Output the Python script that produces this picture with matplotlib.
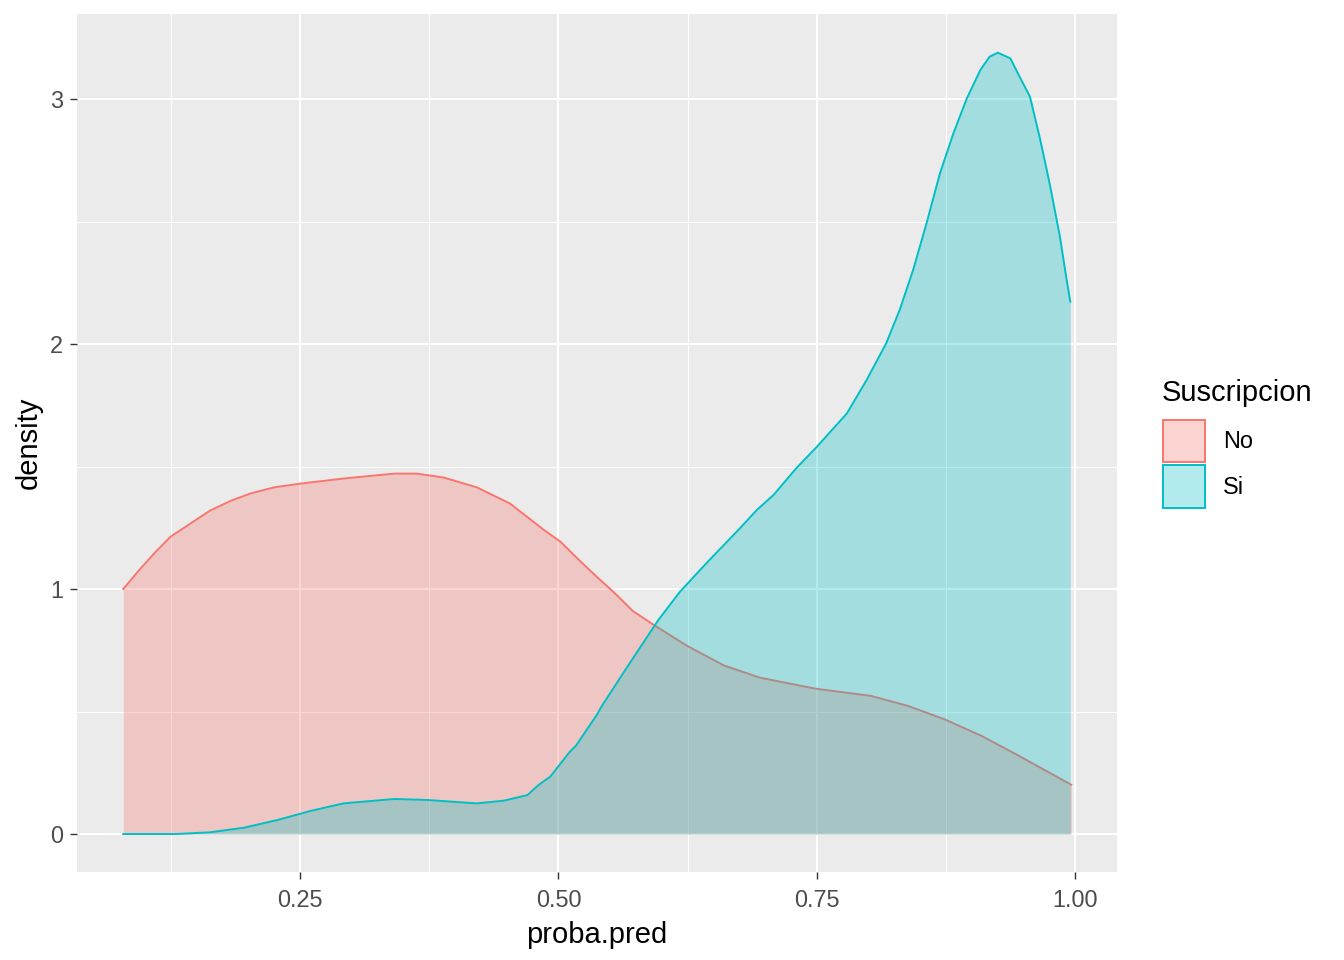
import numpy as np
import matplotlib.pyplot as plt
import matplotlib.colors as mc
from matplotlib.patches import Patch

plt.rcParams['font.family'] = ['Liberation Sans', 'DejaVu Sans']

# density estimates
x_no = [0.079, 0.095, 0.110, 0.1246, 0.145, 0.163, 0.183, 0.202, 0.225, 0.250,
        0.292, 0.341, 0.363, 0.389, 0.421, 0.453, 0.486, 0.502, 0.517, 0.537,
        0.553, 0.572, 0.592, 0.624, 0.660, 0.695, 0.749, 0.802, 0.838, 0.873,
        0.909, 0.945, 0.996]
y_no = [1.000, 1.080, 1.150, 1.213, 1.270, 1.320, 1.360, 1.390, 1.415, 1.430,
        1.451, 1.471, 1.471, 1.455, 1.415, 1.349, 1.241, 1.193, 1.130, 1.050,
        0.989, 0.910, 0.854, 0.769, 0.688, 0.638, 0.593, 0.564, 0.523, 0.469,
        0.401, 0.320, 0.201]

x_si = [0.079, 0.130, 0.163, 0.196, 0.228, 0.260, 0.292, 0.341, 0.373, 0.421,
        0.447, 0.470, 0.481, 0.492, 0.511, 0.517, 0.537, 0.542, 0.567, 0.5965,
        0.6175, 0.643, 0.6755, 0.6917, 0.708, 0.730, 0.750, 0.766, 0.779, 0.798,
        0.817, 0.830, 0.843, 0.856, 0.869, 0.882, 0.895, 0.908, 0.917, 0.925,
        0.937, 0.946, 0.956, 0.966, 0.975, 0.985, 0.991, 0.995]
y_si = [0.000, 0.000, 0.007, 0.026, 0.057, 0.094, 0.125, 0.143, 0.139, 0.125,
        0.136, 0.159, 0.201, 0.234, 0.336, 0.361, 0.486, 0.523, 0.685, 0.873,
        0.989, 1.105, 1.248, 1.322, 1.384, 1.493, 1.581, 1.656, 1.717, 1.853,
        2.003, 2.139, 2.302, 2.493, 2.697, 2.860, 3.003, 3.118, 3.173, 3.189,
        3.166, 3.091, 3.010, 2.833, 2.656, 2.438, 2.275, 2.173]

groups = ['No', 'Si']
colors = ['#F8766D', '#00BFC4']

fig = plt.figure(figsize=(13.44, 9.6), dpi=100)
ax = fig.add_axes([77/1344, 88/960, 1040/1344, 858/960])
ax.set_facecolor('#EBEBEB')
for s in ax.spines.values():
    s.set_visible(False)

ax.set_xlim(0.0343, 1.0402)
ax.set_ylim(-0.155, 3.347)
ax.set_xticks([0.25, 0.5, 0.75, 1.0])
ax.set_xticklabels(['0.25', '0.50', '0.75', '1.00'])
ax.set_yticks([0, 1, 2, 3])
ax.set_xticks([0.125, 0.375, 0.625, 0.875], minor=True)
ax.set_yticks([0.5, 1.5, 2.5], minor=True)
ax.grid(which='major', color='white', linewidth=1.5)
ax.grid(which='minor', color='white', linewidth=0.75)
ax.set_axisbelow(True)
ax.tick_params(which='major', length=5, width=1.0, color='#333333',
               labelsize=16.9, labelcolor='#4D4D4D', pad=5)
ax.tick_params(axis='x', which='major', pad=7)
ax.tick_params(which='minor', length=0)

data = [(x_no, y_no), (x_si, y_si)]
for i, (xs, ys) in enumerate(data):
    ax.fill_between(xs, 0, ys, color=colors[i], alpha=0.3, linewidth=0, zorder=2 + 2*i)
    ax.plot(xs, ys, color=colors[i], linewidth=1.4, zorder=3 + 2*i,
            solid_joinstyle='round')

ax.set_xlabel('proba.pred', fontsize=21, labelpad=7)
ax.set_ylabel('density', fontsize=21, labelpad=5)

handles = []
for c in colors:
    r, g, b = mc.to_rgb(c)
    handles.append(Patch(facecolor=(r, g, b, 0.3), edgecolor=c, linewidth=1.4))
fig.text(1162/1344, 1 - 393/960, 'Suscripcion', fontsize=21, ha='left', va='center')
leg = fig.legend(handles, groups, loc='upper left',
                 bbox_to_anchor=(1163/1344, 1 - 420/960), frameon=False,
                 fontsize=16.9, handlelength=1.8, borderpad=0,
                 handleheight=2.4, labelspacing=0.12, handletextpad=0.75,
                 borderaxespad=0)

fig.savefig('out.png', dpi=100)
